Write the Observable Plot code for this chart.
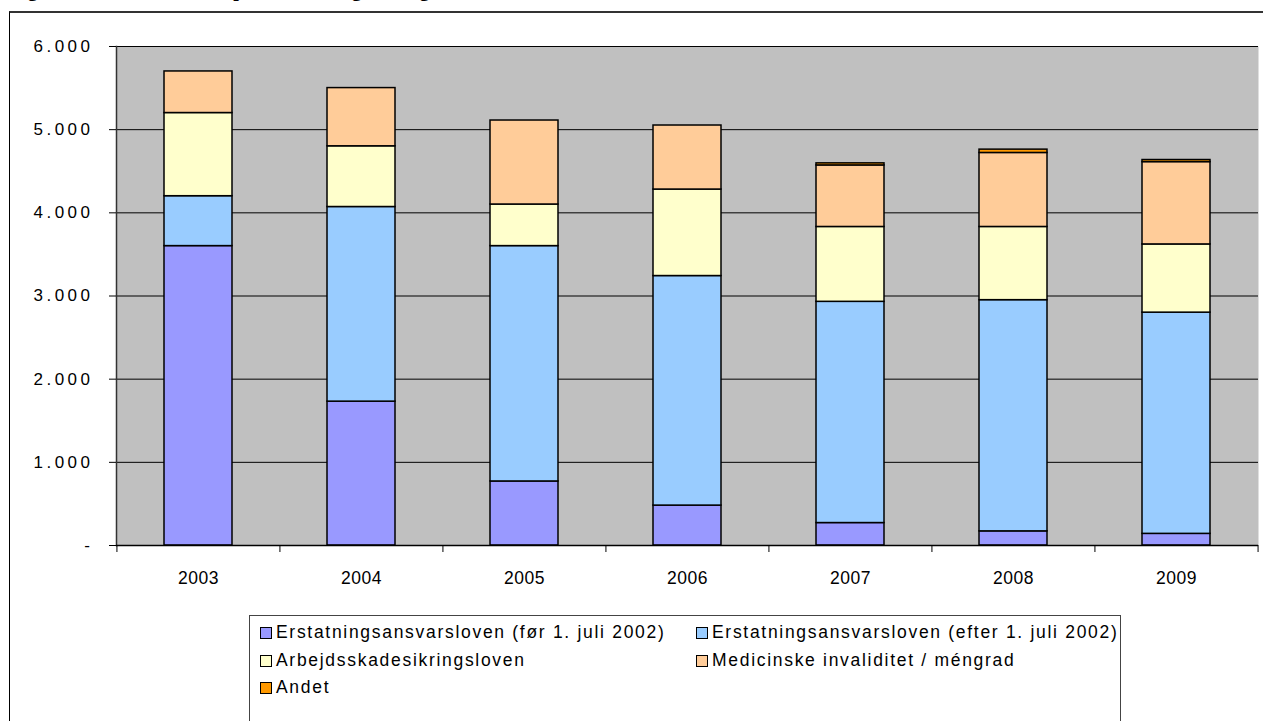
<!DOCTYPE html>
<html>
<head>
<meta charset="utf-8">
<script src="https://cdn.jsdelivr.net/npm/d3@7"></script>
<script src="https://cdn.jsdelivr.net/npm/@observablehq/plot@0.6"></script>
<style>
  html, body { margin: 0; padding: 0; background: #fff; }
  #page { position: relative; width: 1263px; height: 721px; overflow: hidden; font-family: "Liberation Sans", Arial, sans-serif; }
  #title { position: absolute; left: 10px; top: -22px; font-family: "Liberation Serif", "Times New Roman", serif; font-weight: bold; font-size: 20px; white-space: nowrap; color: #000; }
  #frame { position: absolute; left: 9px; top: 11px; width: 1400px; height: 900px; border-left: 1px solid #000; border-top: 2px solid #333; }
  #chart { position: absolute; left: 0; top: 0; }
  #chart g[aria-label="y-axis tick label"] text { letter-spacing: 3.5px; }
  #chart g[aria-label="x-axis tick label"] text { letter-spacing: 0.5px; }
  #legend { position: absolute; left: 249px; top: 615px; width: 870px; height: 200px; border: 1px solid #444; background: #fff; font-size: 17.5px; letter-spacing: 1.7px; color: #000; }
  .item { position: absolute; display: flex; align-items: center; white-space: nowrap; }
  .sw { width: 10px; height: 10px; border: 1px solid #000; margin-right: 4px; }
</style>
</head>
<body>
<div id="page">
  <div id="title">Figur 6. Antal udtalelser opdelt efter lovgrundlag</div>
  <div id="frame"></div>
  <div id="chart"></div>
  <div id="legend"></div>
</div>
<script>
const years = ["2003", "2004", "2005", "2006", "2007", "2008", "2009"];
const series = [
  "Erstatningsansvarsloven (før 1. juli 2002)",
  "Erstatningsansvarsloven (efter 1. juli 2002)",
  "Arbejdsskadesikringsloven",
  "Medicinske invaliditet / méngrad",
  "Andet"
];
const colors = ["#9999FF", "#99CCFF", "#FFFFCC", "#FFCC99", "#FF9900"];
const foer    = [3600, 1730,  770,  480,  270,  170,  140];
const efter   = [ 600, 2340, 2830, 2760, 2660, 2780, 2660];
const arbejd  = [1000,  730,  500, 1040,  900,  880,  820];
const medicin = [ 500,  700, 1010,  770,  740,  890,  990];
const andet   = [   0,    0,    0,    0,   25,   40,   25];
const yTicks = [0, 1000, 2000, 3000, 4000, 5000, 6000];

const valueLists = [foer, efter, arbejd, medicin, andet];
const table = [];
years.forEach((yr, i) => {
  series.forEach((s, j) => table.push({year: yr, series: s, value: valueLists[j][i]}));
});

const W = 1263, H = 600, mL = 116, mR = 5, mT = 46, mB = 55;
const step = (W - mL - mR) / years.length;
const fmt = d => d === 0 ? "-" : d3.format(",")(d).replace(/,/g, ".");

const chart = Plot.plot({
  width: W, height: H,
  marginLeft: mL, marginRight: mR, marginTop: mT, marginBottom: mB,
  style: {fontFamily: "'Liberation Sans', Arial, sans-serif", fontSize: "17px", background: "transparent", color: "#000"},
  x: {domain: years, paddingInner: 0.583, paddingOuter: 0.2915, label: null},
  y: {domain: [0, 6000], label: null},
  color: {domain: series, range: colors},
  marks: [
    Plot.frame({fill: "#C0C0C0", stroke: null}),
    Plot.gridY(yTicks.slice(1), {stroke: "#000", strokeOpacity: 1, strokeWidth: 1}),
    Plot.barY(table, {x: "year", y: "value", fill: "series", stroke: "#000", strokeWidth: 1.5, order: series}),
    Plot.frame({anchor: "left", stroke: "#333", strokeWidth: 1.5}),
    Plot.ruleY([0], {stroke: "#000", strokeWidth: 1.5}),
    Plot.axisY({ticks: yTicks, tickFormat: fmt, tickSize: 7, tickPadding: 16, fontSize: 17, stroke: "#000", label: null}),
    Plot.axisX({tickSize: 0, tickPadding: 26, fontSize: 17.5, label: null}),
    Plot.ruleX(years, {x: d => d, y1: 0, y2: 0, dx: -step / 2, insetBottom: -7, stroke: "#000"}),
    Plot.ruleX(years.slice(-1), {x: d => d, y1: 0, y2: 0, dx: step / 2, insetBottom: -7, stroke: "#000"})
  ]
});
document.getElementById("chart").appendChild(chart);

// Legend (HTML), built from series + colors
const legend = document.getElementById("legend");
const colX = [10, 446];
const rowY = [6, 34, 61];
series.forEach((s, i) => {
  const el = document.createElement("div");
  el.className = "item";
  el.style.left = colX[i % 2] + "px";
  el.style.top = rowY[Math.floor(i / 2)] + "px";
  const sw = document.createElement("span");
  sw.className = "sw";
  sw.style.background = colors[i];
  const tx = document.createElement("span");
  tx.textContent = s;
  el.appendChild(sw);
  el.appendChild(tx);
  legend.appendChild(el);
});
</script>
</body>
</html>
